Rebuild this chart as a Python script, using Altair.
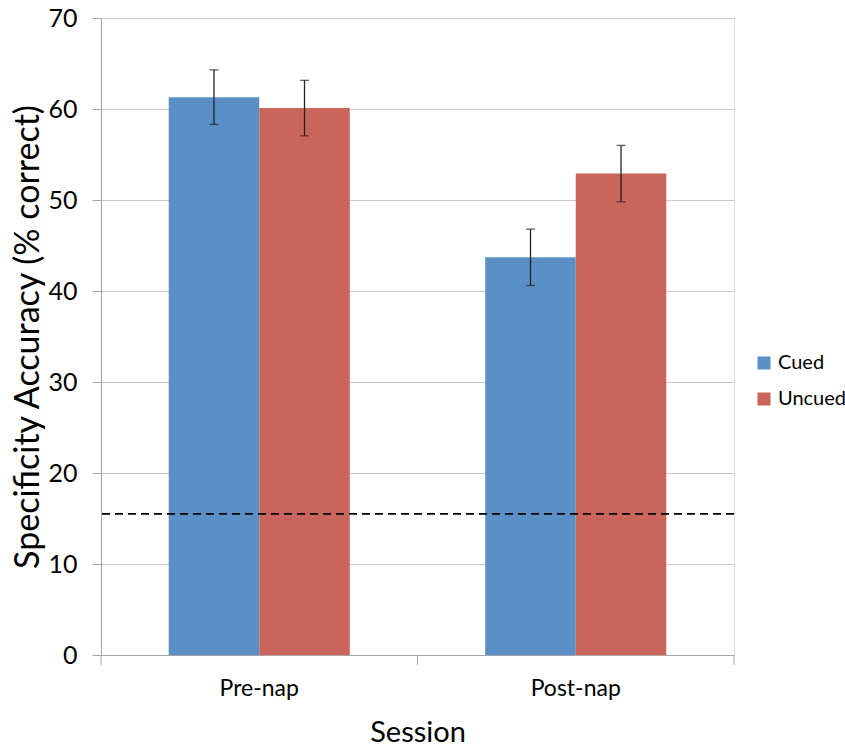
import altair as alt
import pandas as pd

sessions = ["Pre-nap", "Pre-nap", "Post-nap", "Post-nap"]
conditions = ["Cued", "Uncued", "Cued", "Uncued"]
means = [61.3, 60.1, 43.7, 52.9]
errors = [3.0, 3.05, 3.1, 3.1]
chance_level = [15.5]
session_order = ["Pre-nap", "Post-nap"]
condition_order = ["Cued", "Uncued"]
category_boundaries = [0, 1, 2]
colors = ["#5B90C6", "#CA655C"]

df = pd.DataFrame({"Session": sessions, "Condition": conditions, "Mean": means, "Err": errors})
df["Lo"] = df["Mean"] - df["Err"]
df["Hi"] = df["Mean"] + df["Err"]
chance = pd.DataFrame({"y": chance_level})
bounds = pd.DataFrame({"b": category_boundaries})

FONT = "Lato"
AXIS_GRAY = "#A6A6A6"

x_enc = alt.X("Session:N", sort=session_order,
              scale=alt.Scale(paddingInner=0.428, paddingOuter=0.214),
              axis=alt.Axis(title="Session", labelAngle=0, ticks=False,
                            labelFontSize=23, titleFontSize=29, labelPadding=22,
                            titlePadding=18, domainColor=AXIS_GRAY,
                            labelColor="black", titleColor="black",
                            labelFont=FONT, titleFont=FONT, titleFontWeight="normal", grid=False))
xoff = alt.XOffset("Condition:N", sort=condition_order, scale=alt.Scale(paddingInner=0, paddingOuter=0))

y_scale = alt.Scale(domain=[0, 70])

bars = alt.Chart(df).mark_bar().encode(
    x=x_enc,
    xOffset=xoff,
    y=alt.Y("Mean:Q", scale=y_scale,
            axis=alt.Axis(title="Specificity Accuracy (% correct)", values=list(range(0, 71, 10)),
                          labelFontSize=25, titleFontSize=34, labelPadding=15, tickSize=9,
                          titlePadding=2, domainColor=AXIS_GRAY, tickColor=AXIS_GRAY,
                          gridColor="#C8C8C8", gridWidth=1.2, labelColor="black", titleColor="black",
                          labelFont=FONT, titleFont=FONT, titleFontWeight="normal")),
    color=alt.Color("Condition:N", sort=condition_order,
                    scale=alt.Scale(domain=condition_order, range=colors),
                    legend=alt.Legend(title=None, orient="none", legendX=653, legendY=335,
                                      padding=0, symbolType="square", symbolSize=170,
                                      symbolStrokeWidth=0,
                                      labelFontSize=20, labelFont=FONT, labelColor="black",
                                      rowPadding=16, labelOffset=4)),
)

err_rule = alt.Chart(df).mark_rule(color="#222222", strokeWidth=1.3).encode(
    x=alt.X("Session:N", sort=session_order),
    xOffset=xoff,
    y=alt.Y("Lo:Q", scale=y_scale),
    y2="Hi:Q",
)
cap_lo = alt.Chart(df).mark_tick(color="#222222", thickness=1.3, size=9, orient="horizontal").encode(
    x=alt.X("Session:N", sort=session_order),
    xOffset=xoff,
    y=alt.Y("Lo:Q", scale=y_scale),
)
cap_hi = alt.Chart(df).mark_tick(color="#222222", thickness=1.3, size=9, orient="horizontal").encode(
    x=alt.X("Session:N", sort=session_order),
    xOffset=xoff,
    y=alt.Y("Hi:Q", scale=y_scale),
)

dash = alt.Chart(chance).mark_rule(color="black", strokeWidth=1.8, strokeDash=[8, 5]).encode(
    y=alt.Y("y:Q", scale=y_scale)
)

main = alt.layer(bars, err_rule, cap_lo, cap_hi, dash)

xticks = alt.Chart(bounds).mark_rule(color=AXIS_GRAY, strokeWidth=1).encode(
    x=alt.X("b:Q", scale=alt.Scale(domain=[0, 2], nice=False, zero=False), axis=None),
    y=alt.value(637),
    y2=alt.value(647),
)

chart = alt.layer(main, xticks).resolve_scale(x="independent").properties(
    width=633, height=637,
    autosize=alt.AutoSizeParams(type="none"),
    padding={"left": 101, "top": 18, "right": 111, "bottom": 92},
).configure_view(stroke=None).configure(background="white")

chart.save("out.html", embed_options={"renderer": "svg", "actions": False})
